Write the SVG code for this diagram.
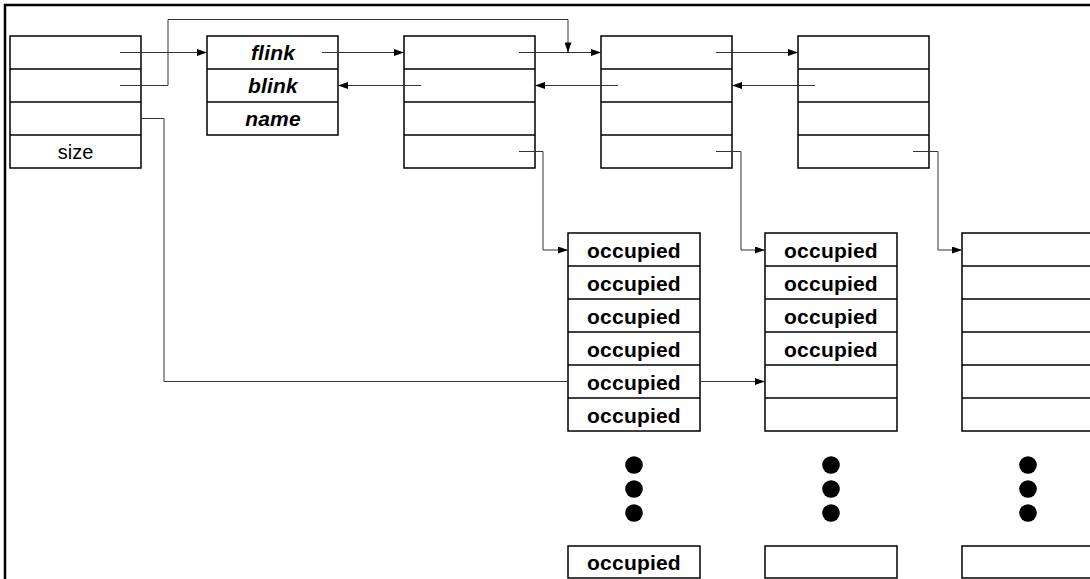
<svg xmlns="http://www.w3.org/2000/svg" width="1090" height="579" viewBox="0 0 1090 579">
<defs>
<style>
.box{fill:#fff;stroke:#000;stroke-width:1.5}
.sep{stroke:#000;stroke-width:1.5}
.con{fill:none;stroke:#333;stroke-width:1}
.t{font-family:"Liberation Sans",Arial,sans-serif;font-size:20px;text-anchor:middle;fill:#000}
.b{font-weight:bold;font-size:21px;letter-spacing:0.2px}
.bi{font-weight:bold;font-style:italic;font-size:21px;letter-spacing:0.2px}
.dot{fill:#000}
</style>
<marker id="arr" markerUnits="userSpaceOnUse" viewBox="0 0 10 7" refX="10" refY="3.5" markerWidth="11" markerHeight="7" orient="auto">
<path d="M0,0 L10,3.5 L0,7 z" fill="#000"/>
</marker>
</defs>
<rect width="1090" height="579" fill="#fff"/>
<rect x="5" y="5" width="1100" height="600" fill="none" stroke="#000" stroke-width="2.5"/>

<g id="head">
<rect class="box" x="10" y="36" width="131" height="132"/>
<line class="sep" x1="10" y1="69" x2="141" y2="69"/>
<line class="sep" x1="10" y1="102" x2="141" y2="102"/>
<line class="sep" x1="10" y1="135" x2="141" y2="135"/>
<text class="t" x="75.5" y="159">size</text>
</g>

<g id="listhead">
<rect class="box" x="207" y="36" width="131" height="99"/>
<line class="sep" x1="207" y1="69" x2="338" y2="69"/>
<line class="sep" x1="207" y1="102" x2="338" y2="102"/>
<text class="t bi" x="273" y="60">flink</text>
<text class="t bi" x="273" y="93">blink</text>
<text class="t bi" x="273" y="126">name</text>
</g>

<g id="node1">
<rect class="box" x="404" y="36" width="131" height="132"/>
<line class="sep" x1="404" y1="69" x2="535" y2="69"/>
<line class="sep" x1="404" y1="102" x2="535" y2="102"/>
<line class="sep" x1="404" y1="135" x2="535" y2="135"/>
</g>

<g id="node2">
<rect class="box" x="601" y="36" width="131" height="132"/>
<line class="sep" x1="601" y1="69" x2="732" y2="69"/>
<line class="sep" x1="601" y1="102" x2="732" y2="102"/>
<line class="sep" x1="601" y1="135" x2="732" y2="135"/>
</g>

<g id="node3">
<rect class="box" x="798" y="36" width="131" height="132"/>
<line class="sep" x1="798" y1="69" x2="929" y2="69"/>
<line class="sep" x1="798" y1="102" x2="929" y2="102"/>
<line class="sep" x1="798" y1="135" x2="929" y2="135"/>
</g>

<g id="slab1">
<rect class="box" x="568" y="233" width="132" height="198"/>
<line class="sep" x1="568" y1="266" x2="700" y2="266"/>
<line class="sep" x1="568" y1="299" x2="700" y2="299"/>
<line class="sep" x1="568" y1="332" x2="700" y2="332"/>
<line class="sep" x1="568" y1="365" x2="700" y2="365"/>
<line class="sep" x1="568" y1="398" x2="700" y2="398"/>
<text class="t b" x="634" y="257.5">occupied</text>
<text class="t b" x="634" y="290.5">occupied</text>
<text class="t b" x="634" y="323.5">occupied</text>
<text class="t b" x="634" y="356.5">occupied</text>
<text class="t b" x="634" y="389.5">occupied</text>
<text class="t b" x="634" y="422.5">occupied</text>
<circle class="dot" cx="634" cy="465" r="8.8"/>
<circle class="dot" cx="634" cy="489" r="8.8"/>
<circle class="dot" cx="634" cy="513" r="8.8"/>
<rect class="box" x="568" y="546" width="132" height="32"/>
<text class="t b" x="634" y="570">occupied</text>
</g>

<g id="slab2">
<rect class="box" x="765" y="233" width="132" height="198"/>
<line class="sep" x1="765" y1="266" x2="897" y2="266"/>
<line class="sep" x1="765" y1="299" x2="897" y2="299"/>
<line class="sep" x1="765" y1="332" x2="897" y2="332"/>
<line class="sep" x1="765" y1="365" x2="897" y2="365"/>
<line class="sep" x1="765" y1="398" x2="897" y2="398"/>
<text class="t b" x="831" y="257.5">occupied</text>
<text class="t b" x="831" y="290.5">occupied</text>
<text class="t b" x="831" y="323.5">occupied</text>
<text class="t b" x="831" y="356.5">occupied</text>
<circle class="dot" cx="831" cy="465" r="8.8"/>
<circle class="dot" cx="831" cy="489" r="8.8"/>
<circle class="dot" cx="831" cy="513" r="8.8"/>
<rect class="box" x="765" y="546" width="132" height="32"/>
</g>

<g id="slab3">
<rect class="box" x="962" y="233" width="132" height="198"/>
<line class="sep" x1="962" y1="266" x2="1094" y2="266"/>
<line class="sep" x1="962" y1="299" x2="1094" y2="299"/>
<line class="sep" x1="962" y1="332" x2="1094" y2="332"/>
<line class="sep" x1="962" y1="365" x2="1094" y2="365"/>
<line class="sep" x1="962" y1="398" x2="1094" y2="398"/>
<circle class="dot" cx="1028" cy="465" r="8.8"/>
<circle class="dot" cx="1028" cy="489" r="8.8"/>
<circle class="dot" cx="1028" cy="513" r="8.8"/>
<rect class="box" x="962" y="546" width="132" height="32"/>
</g>

<g id="connectors">
<path class="con" d="M120,52.5 H207" marker-end="url(#arr)"/>
<path class="con" d="M120,85.5 H168 V19.5 H568 V52.5" marker-end="url(#arr)"/>
<path class="con" d="M322,52.5 H404" marker-end="url(#arr)"/>
<path class="con" d="M519,52.5 H601" marker-end="url(#arr)"/>
<path class="con" d="M716,52.5 H798" marker-end="url(#arr)"/>
<path class="con" d="M421,85.5 H338" marker-end="url(#arr)"/>
<path class="con" d="M618,85.5 H535" marker-end="url(#arr)"/>
<path class="con" d="M815,85.5 H732" marker-end="url(#arr)"/>
<path class="con" d="M519,151.5 H543 V250 H568" marker-end="url(#arr)"/>
<path class="con" d="M716,151.5 H741 V250 H765" marker-end="url(#arr)"/>
<path class="con" d="M913,151.5 H938 V250 H962" marker-end="url(#arr)"/>
<path class="con" d="M141,118.5 H164 V381.5 H568"/>
<path class="con" d="M700,381.5 H765" marker-end="url(#arr)"/>
</g>
</svg>
